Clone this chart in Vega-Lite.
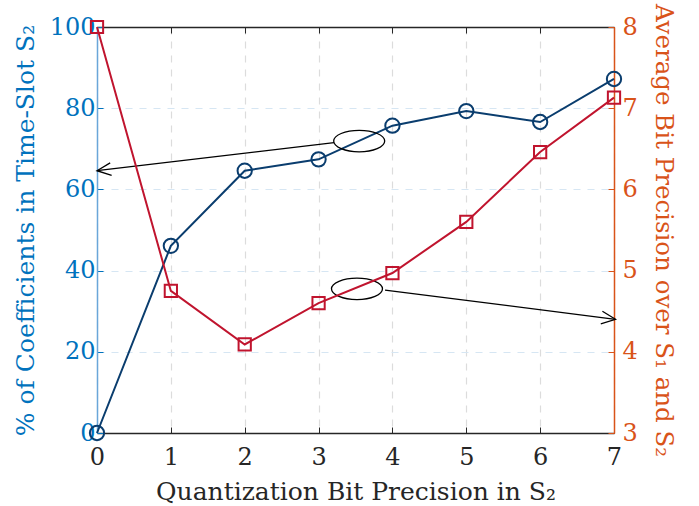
{
  "$schema": "https://vega.github.io/schema/vega-lite/v6.json",
  "autosize": "none",
  "width": 517,
  "height": 406,
  "padding": {"left": 97, "top": 27, "right": 85, "bottom": 73},
  "background": "white",
  "config": {
    "view": {"stroke": null},
    "font": "DejaVu Serif",
    "axis": {"labelFont": "DejaVu Serif", "titleFont": "DejaVu Serif", "titleFontWeight": "normal", "labelFontSize": 24, "titleFontSize": 25, "labelFlush": false, "format": "d"}
  },
  "datasets": {
    "main": [
      {"x": 0, "pct": 0, "bits": 8.0},
      {"x": 1, "pct": 46.1, "bits": 4.75},
      {"x": 2, "pct": 64.6, "bits": 4.09},
      {"x": 3, "pct": 67.4, "bits": 4.6},
      {"x": 4, "pct": 75.7, "bits": 4.97},
      {"x": 5, "pct": 79.3, "bits": 5.6},
      {"x": 6, "pct": 76.6, "bits": 6.46},
      {"x": 7, "pct": 87.2, "bits": 7.13}
    ],
    "ellipses": [
      {"x": 3.55, "pct": 71.9},
      {"x": 3.52, "pct": 35.5}
    ],
    "arrows": [
      {"arrow": "a", "ord": 0, "x": 3.21, "pct": 71.5},
      {"arrow": "a", "ord": 1, "x": 0.0, "pct": 64.6},
      {"arrow": "b", "ord": 0, "x": 3.9, "pct": 35.2},
      {"arrow": "b", "ord": 1, "x": 7.02, "pct": 28.0}
    ],
    "heads": [
      {"x": 0.0, "pct": 64.6, "ang": 353.3},
      {"x": 7.02, "pct": 28.0, "ang": 187.4}
    ]
  },
  "layer": [
    {
      "layer": [
        {
          "data": {"name": "main"},
          "mark": {"type": "line", "color": "#0A3D6E", "strokeWidth": 2},
          "encoding": {
            "x": {"field": "x", "type": "quantitative", "scale": {"domain": [0, 7], "nice": false},
              "axis": {"orient": "bottom", "values": [0,1,2,3,4,5,6,7], "format": "d", "labelFlush": false, "labelFont": "DejaVu Serif", "titleFont": "DejaVu Serif", "title": "Quantization Bit Precision in S₂", "titleColor": "#262626", "labelColor": "#262626", "domainColor": "#262626", "domainWidth": 1.5, "tickColor": "#262626", "tickSize": -6, "labelPadding": 18, "titleY": 58, "titleBaseline": "middle",
                "grid": true, "gridColor": "#dcdcdc", "gridDash": [7, 7], "gridWidth": 1.2}},
            "y": {"field": "pct", "type": "quantitative", "scale": {"domain": [0, 100], "nice": false},
              "axis": {"orient": "left", "values": [0,20,40,60,80,100], "format": "d", "labelFlush": false, "labelFont": "DejaVu Serif", "titleFont": "DejaVu Serif", "title": "% of Coefficients in Time-Slot S₂", "titleColor": "#0072BD", "labelColor": "#0072BD", "domainColor": "#6AA6D9", "domainWidth": 1.5, "tickColor": "#0072BD", "tickSize": -6, "labelPadding": 8, "titleX": -72, "titleBaseline": "middle",
                "grid": true, "gridColor": "#d6e6f3", "gridDash": [7, 7], "gridWidth": 1.2}}
          }
        },
        {
          "data": {"name": "main"},
          "mark": {"type": "point", "shape": "circle", "filled": false, "color": "#0A3D6E", "strokeWidth": 2, "size": 205, "opacity": 1},
          "encoding": {
            "x": {"field": "x", "type": "quantitative"},
            "y": {"field": "pct", "type": "quantitative"}
          }
        },
        {
          "data": {"name": "arrows"},
          "mark": {"type": "line", "color": "black", "strokeWidth": 1.3},
          "encoding": {
            "x": {"field": "x", "type": "quantitative"},
            "y": {"field": "pct", "type": "quantitative"},
            "detail": {"field": "arrow"},
            "order": {"field": "ord"}
          }
        },
        {
          "data": {"name": "heads"},
          "mark": {"type": "point", "shape": "M 1 -0.45 L 0 0 L 1 0.45", "filled": false, "color": "black", "strokeWidth": 1.3, "size": 784, "opacity": 1},
          "encoding": {
            "x": {"field": "x", "type": "quantitative"},
            "y": {"field": "pct", "type": "quantitative"},
            "angle": {"field": "ang", "type": "quantitative", "scale": null}
          }
        },
        {
          "data": {"name": "ellipses"},
          "mark": {"type": "point", "shape": "M -1 0 A 1 0.42 0 1 0 1 0 A 1 0.42 0 1 0 -1 0 Z", "filled": false, "color": "black", "strokeWidth": 1.3, "size": 2601, "opacity": 1},
          "encoding": {
            "x": {"field": "x", "type": "quantitative"},
            "y": {"field": "pct", "type": "quantitative"}
          }
        }
      ]
    },
    {
      "layer": [
        {
          "data": {"name": "main"},
          "mark": {"type": "line", "color": "#C0142E", "strokeWidth": 2},
          "encoding": {
            "x": {"field": "x", "type": "quantitative",
              "axis": {"orient": "top", "values": [0,1,2,3,4,5,6,7], "labels": false, "title": null, "grid": false, "domainColor": "#262626", "domainWidth": 1.5, "tickColor": "#262626", "tickSize": -6}},
            "y": {"field": "bits", "type": "quantitative", "scale": {"domain": [3, 8], "nice": false},
              "axis": {"orient": "right", "values": [3,4,5,6,7,8], "format": "d", "labelFlush": false, "labelFont": "DejaVu Serif", "titleFont": "DejaVu Serif", "title": "Average Bit Precision over S₁ and S₂", "titleColor": "#D95319", "labelColor": "#D95319", "domainColor": "#D95319", "domainWidth": 1.5, "tickColor": "#D95319", "tickSize": -6, "labelPadding": 14, "titleX": 48, "titleFontSize": 24.5, "titleBaseline": "middle", "grid": false}}
          }
        },
        {
          "data": {"name": "main"},
          "mark": {"type": "point", "shape": "square", "filled": false, "color": "#C0142E", "strokeWidth": 2, "size": 150, "opacity": 1},
          "encoding": {
            "x": {"field": "x", "type": "quantitative"},
            "y": {"field": "bits", "type": "quantitative"}
          }
        }
      ]
    }
  ],
  "resolve": {"scale": {"y": "independent"}, "axis": {"x": "independent"}}
}
